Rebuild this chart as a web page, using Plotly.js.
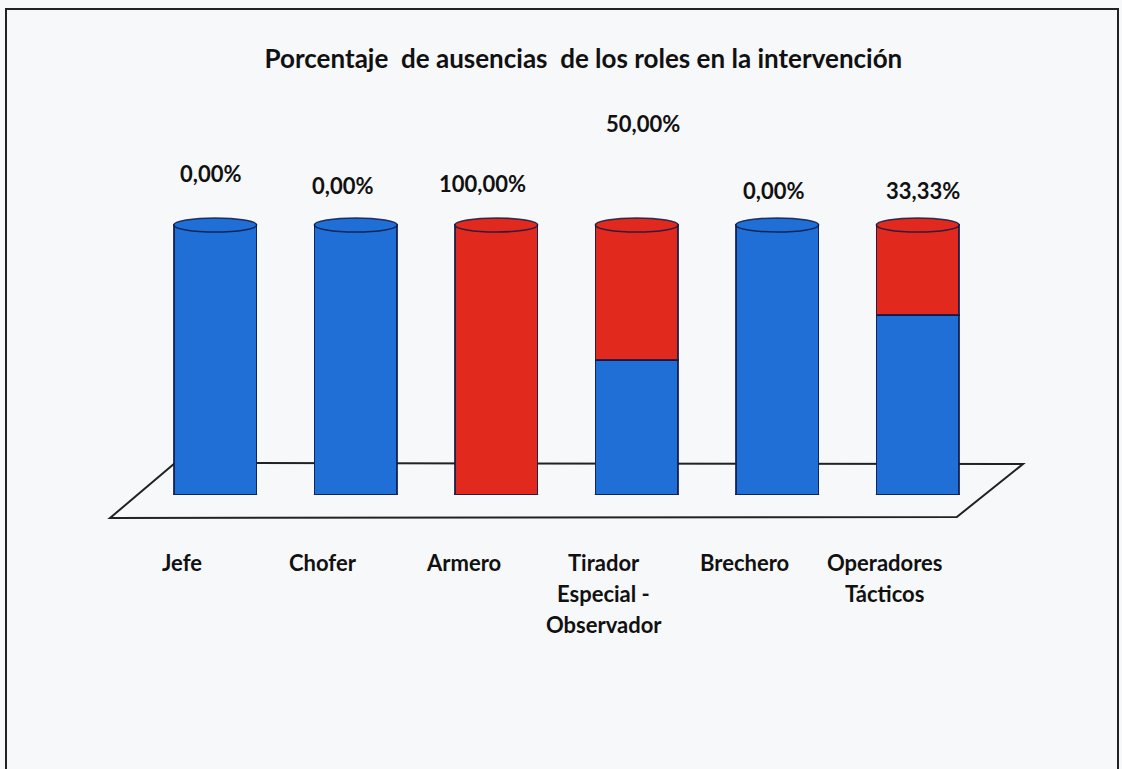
<!DOCTYPE html>
<html>
<head>
<meta charset="utf-8">
<script src="https://cdn.plot.ly/plotly-3.0.1.min.js"></script>
<style>
  html, body { margin: 0; padding: 0; background: #f7f8fa; }
  #frame { position: absolute; left: 5px; top: 8px; width: 1110px; height: 800px;
           border-top: 2px solid #222; border-left: 2px solid #222; border-right: 2px solid #222; pointer-events: none; z-index: 5; }
  #chart { width: 1122px; height: 769px; }
</style>
</head>
<body>
<div id="frame"></div>
<div id="chart"></div>
<script>
// ---- data ----
const categories = ['Jefe', 'Chofer', 'Armero', 'Tirador<br>Especial -<br>Observador', 'Brechero', 'Operadores<br>Tácticos'];
const presentPct = [100, 100, 0, 50, 100, 66.67];
const absentPct  = [0, 0, 100, 50, 0, 33.33];
const chartTitle = 'Porcentaje\u00a0 de ausencias\u00a0 de los roles en la intervención';

// ---- styling ----
const BLUE = '#1f6fd6';
const RED = '#e2291d';
const EDGE = 'rgba(15,25,70,0.85)';
const FONT = 'Lato, "Open Sans", sans-serif';
const BARGAP = 0.41;
const barW = 1 - BARGAP;
const xIdx = categories.map((_, i) => i);

// label offsets (pixels) for the value labels above each cylinder
const labelDy = [52, 40, 42, 102, 35, 35];
const labelDx = [-5, -13, -14, 6, -4, 5];

const traces = [
  {
    type: 'bar', x: xIdx, y: presentPct, name: 'Presente',
    marker: { color: BLUE, line: { color: EDGE, width: 1.5 } },
    hoverinfo: 'skip'
  },
  {
    type: 'bar', x: xIdx, y: absentPct, name: 'Ausente',
    marker: { color: RED, line: { color: EDGE, width: 1.5 } },
    hoverinfo: 'skip'
  }
];

const shapes = [];
// floor of the 3D chart (decoration)
shapes.push({
  type: 'path', xref: 'paper', yref: 'paper', layer: 'below',
  path: 'M -0.0415 -0.0568 L 0.0356 0.079 L 1.0415 0.0765 L 0.963 -0.0543 Z',
  line: { color: '#222', width: 2 }, fillcolor: 'rgba(0,0,0,0)'
});
xIdx.forEach(i => {
  const bottomColor = presentPct[i] > 0 ? BLUE : RED;
  const topColor = absentPct[i] > 0 ? RED : BLUE;
  shapes.push({
    type: 'circle', xref: 'x', yref: 'y', layer: 'below',
    x0: i - barW / 2, x1: i + barW / 2,
    ysizemode: 'pixel', yanchor: 0, y0: -7, y1: 7,
    fillcolor: bottomColor, line: { color: EDGE, width: 1.5 }
  });
  const total = presentPct[i] + absentPct[i];
  shapes.push({
    type: 'circle', xref: 'x', yref: 'y', layer: 'above',
    x0: i - barW / 2, x1: i + barW / 2,
    ysizemode: 'pixel', yanchor: total, y0: -7, y1: 7,
    fillcolor: topColor, line: { color: EDGE, width: 1.5 }
  });
});

const annotations = [];
// value labels (percentage of absences)
xIdx.forEach(i => {
  annotations.push({
    x: i, y: presentPct[i] + absentPct[i], xref: 'x', yref: 'y',
    text: absentPct[i].toFixed(2).replace('.', ',') + '%',
    showarrow: false, yanchor: 'middle', xanchor: 'center',
    yshift: labelDy[i], xshift: labelDx[i],
    font: { family: FONT, size: 22, color: '#111', weight: 'bold' }
  });
});
// category labels (one annotation per text line)
categories.forEach((c, i) => {
  c.split('<br>').forEach((line, k) => {
    annotations.push({
      x: i, y: 0, xref: 'x', yref: 'y', text: line,
      showarrow: false, yanchor: 'middle', xanchor: 'center',
      yshift: -67 - 31 * k, xshift: -33,
      font: { family: FONT, size: 22, color: '#111', weight: 'bold' }
    });
  });
});

const layout = {
  width: 1122, height: 769,
  paper_bgcolor: '#f7f8fa', plot_bgcolor: 'rgba(0,0,0,0)',
  margin: { l: 145, r: 134, t: 90, b: 274 },
  barmode: 'stack', bargap: BARGAP,
  showlegend: false,
  title: {
    text: chartTitle, xref: 'container', yref: 'container',
    x: 0.52, y: 0.924, xanchor: 'center', yanchor: 'middle',
    font: { family: FONT, size: 26, color: '#111', weight: 'bold' }
  },
  xaxis: {
    range: [-0.5, 5.5], showticklabels: false, showgrid: false,
    zeroline: false, showline: false, ticks: '', fixedrange: true
  },
  yaxis: {
    range: [0, 150], showticklabels: false, showgrid: false,
    zeroline: false, showline: false, ticks: '', fixedrange: true
  },
  shapes: shapes,
  annotations: annotations
};

Plotly.newPlot('chart', traces, layout, { displayModeBar: false, staticPlot: true });
</script>
</body>
</html>
